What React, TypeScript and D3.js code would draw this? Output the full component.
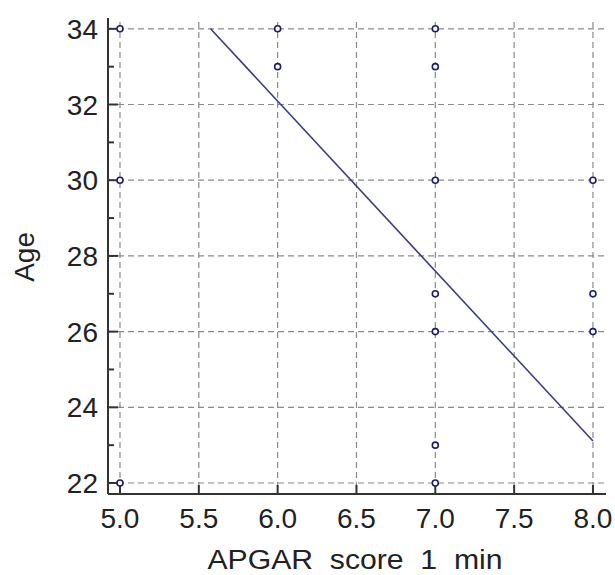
import React from "react";
import * as d3 from "d3";

// points (APGAR 1 min vs. age)
const apgar = [5, 5, 5, 6, 6, 7, 7, 7, 7, 7, 7, 7, 8, 8, 8];
const age = [34, 30, 22, 34, 33, 34, 33, 30, 27, 26, 23, 22, 30, 27, 26];

// fitted regression line
const intercept = 59.03;
const slope = -4.49;

const xTicks = [5.0, 5.5, 6.0, 6.5, 7.0, 7.5, 8.0];
const yTicks = [22, 24, 26, 28, 30, 32, 34];
const yMinor = [23, 25, 27, 29, 31, 33];

const W = 615;
const H = 575;
const left = 108;
const right = 604;
const top = 22;
const bottom = 494;

const font = "'Liberation Sans', Arial, sans-serif";

export default function App() {
  const x = d3.scaleLinear().domain([4.924, 8.07]).range([left, right]);
  const y = d3.scaleLinear().domain([21.71, 34.18]).range([bottom, top]);

  const lineStart = (34 - intercept) / slope;
  const fit = [lineStart, 8.0].map((v) => [v, intercept + slope * v] as [number, number]);
  const linePath = d3
    .line<[number, number]>()
    .x((d) => x(d[0]))
    .y((d) => y(d[1]))(fit);

  const axisColor = "#333";
  const gridColor = "#8a8a8a";

  return (
    <svg
      width={W}
      height={H}
      style={{ position: "absolute", left: 0, top: 0, background: "#fff" }}
    >
      {/* grid */}
      <g stroke={gridColor} strokeWidth={1.2} strokeDasharray="6,4" fill="none">
        {xTicks.map((t) => (
          <line key={"gx" + t} x1={x(t)} x2={x(t)} y1={top} y2={bottom} />
        ))}
        {yTicks.map((t) => (
          <line key={"gy" + t} x1={left} x2={right} y1={y(t)} y2={y(t)} />
        ))}
      </g>

      {/* axes */}
      <g stroke={axisColor} strokeWidth={2}>
        <line x1={left} x2={left} y1={top - 4} y2={bottom} />
        <line x1={left} x2={right + 2} y1={bottom} y2={bottom} />
        {yTicks.map((t) => (
          <line key={"ty" + t} x1={left} x2={left + 10} y1={y(t)} y2={y(t)} />
        ))}
        {yMinor.map((t) => (
          <line key={"tm" + t} x1={left} x2={left + 6} y1={y(t)} y2={y(t)} />
        ))}
        {xTicks.map((t) => (
          <line key={"tx" + t} x1={x(t)} x2={x(t)} y1={bottom} y2={bottom - 9} />
        ))}
      </g>

      {/* tick labels */}
      <g fontFamily={font} fontSize={28} fill="#222">
        {yTicks.map((t) => (
          <text key={"ly" + t} x={left - 10} y={y(t)} dy="0.36em" textAnchor="end">
            {t}
          </text>
        ))}
        {xTicks.map((t) => (
          <text key={"lx" + t} x={x(t)} y={528} textAnchor="middle">
            {t.toFixed(1)}
          </text>
        ))}
      </g>

      {/* axis titles */}
      <text
        x={355}
        y={569}
        textAnchor="middle"
        fontFamily={font}
        fontSize={27}
        fill="#222"
        textLength={295}
        lengthAdjust="spacingAndGlyphs"
        style={{ whiteSpace: "pre" }}
      >
        {"APGAR  score  1  min"}
      </text>
      <text
        transform={`translate(34,${y(28) + 1}) rotate(-90)`}
        textAnchor="middle"
        fontFamily={font}
        fontSize={28}
        fill="#222"
      >
        Age
      </text>

      {/* regression line */}
      <path d={linePath || ""} fill="none" stroke="#3b3b85" strokeWidth={1.6} />

      {/* points */}
      <g fill="#fff" stroke="#1c1c6b" strokeWidth={1.6}>
        {apgar.map((a, i) => (
          <circle key={"p" + i} cx={x(a)} cy={y(age[i])} r={3} />
        ))}
      </g>
    </svg>
  );
}
